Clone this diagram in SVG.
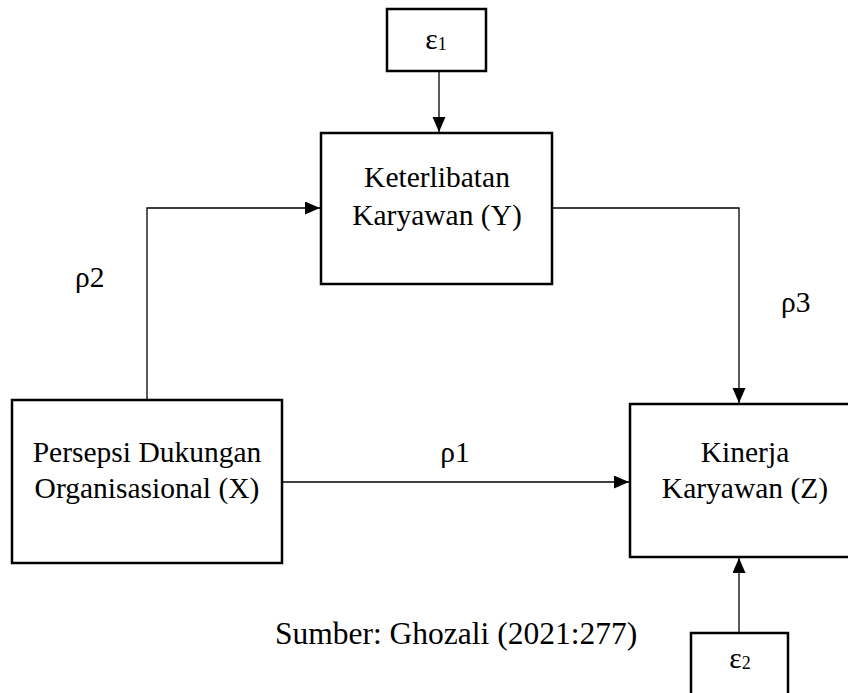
<svg xmlns="http://www.w3.org/2000/svg" width="848" height="693" viewBox="0 0 848 693">
<style>
.box{fill:#fff;stroke:#000;stroke-width:2.5}
.lbl{font-family:"Liberation Serif","Times New Roman",serif;font-size:29.5px;fill:#000}
.conn{fill:none;stroke:#000;stroke-width:1.3}
</style>
<defs>
<marker id="ah" markerUnits="userSpaceOnUse" markerWidth="16" markerHeight="14" refX="15" refY="6.5" orient="auto">
<path d="M0,0 L15,6.5 L0,13 z" fill="#000"/>
</marker>
</defs>
<rect width="848" height="693" fill="#fff"/>
<g id="connectors">
<path class="conn" d="M439,71 V132" marker-end="url(#ah)"/>
<path class="conn" d="M147,400 V208 H320" marker-end="url(#ah)"/>
<path class="conn" d="M552,208 H739 V403" marker-end="url(#ah)"/>
<path class="conn" d="M282,482 H629" marker-end="url(#ah)"/>
<path class="conn" d="M739,633 V558" marker-end="url(#ah)"/>
</g>
<g id="e1">
<rect class="box" x="387" y="9" width="99" height="62"/>
<text class="lbl" x="436" y="49" text-anchor="middle">ε<tspan font-size="18" dy="1">1</tspan></text>
</g>
<g id="Y">
<rect class="box" x="321" y="133" width="231" height="151"/>
<text class="lbl" x="437" y="187" text-anchor="middle">Keterlibatan</text>
<text class="lbl" x="437" y="225" text-anchor="middle">Karyawan (Y)</text>
</g>
<g id="X">
<rect class="box" x="12" y="400" width="270" height="163"/>
<text class="lbl" x="147" y="462" text-anchor="middle">Persepsi Dukungan</text>
<text class="lbl" x="147" y="498" text-anchor="middle">Organisasional (X)</text>
</g>
<g id="Z">
<rect class="box" x="630" y="404" width="230" height="153"/>
<text class="lbl" x="745" y="462" text-anchor="middle">Kinerja</text>
<text class="lbl" x="745" y="498" text-anchor="middle">Karyawan (Z)</text>
</g>
<g id="e2">
<rect class="box" x="691" y="633" width="97" height="62"/>
<text class="lbl" x="740" y="668" text-anchor="middle">ε<tspan font-size="18" dy="1">2</tspan></text>
</g>
<g id="labels">
<text class="lbl" x="75" y="287">ρ2</text>
<text class="lbl" x="455" y="462" text-anchor="middle">ρ1</text>
<text class="lbl" x="781" y="312">ρ3</text>
<text class="lbl" x="275" y="644" style="font-size:31.5px">Sumber: Ghozali (2021:277)</text>
</g>
</svg>
